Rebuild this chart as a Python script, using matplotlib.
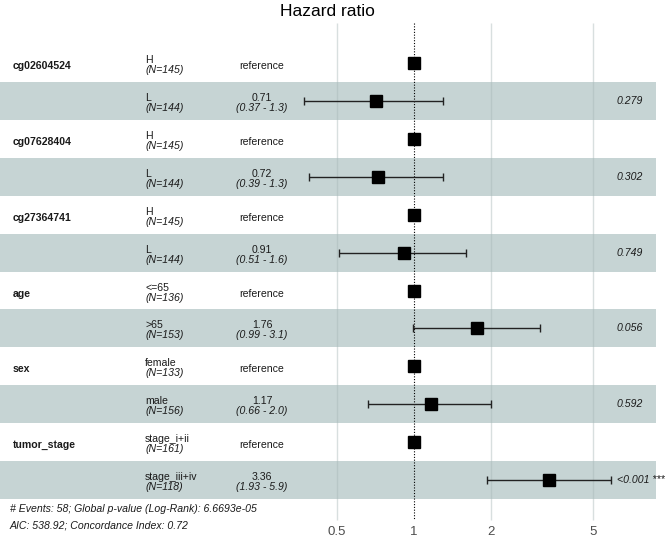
import numpy as np
import matplotlib
matplotlib.use("Agg")
import matplotlib.pyplot as plt
from matplotlib import transforms

variables = ["cg02604524", "cg07628404", "cg27364741", "age", "sex", "tumor_stage"]
levels = [("H", "L"), ("H", "L"), ("H", "L"), ("<=65", ">65"),
          ("female", "male"), ("stage_i+ii", "stage_iii+iv")]
counts = [(145, 144), (145, 144), (145, 144), (136, 153), (133, 156), (161, 118)]
hr = [0.71, 0.72, 0.91, 1.76, 1.17, 3.36]
lower = [0.37, 0.39, 0.51, 0.99, 0.66, 1.93]
upper = [1.3, 1.3, 1.6, 3.1, 2.0, 5.9]
pvals = ["0.279", "0.302", "0.749", "0.056", "0.592", "<0.001 ***"]
ticks = [0.5, 1, 2, 5]
footer = ["# Events: 58; Global p-value (Log-Rank): 6.6693e-05",
          "AIC: 538.92; Concordance Index: 0.72"]

W, H = 669, 540
ROW = 37.92          # row height in pixels
TOP = 63.0           # centre of first row in pixels
PX_PER_LN = 111.0    # pixels per unit of ln(HR)
X_ONE = 414.0        # pixel of HR = 1

plt.rcParams["font.family"] = ["Liberation Sans", "DejaVu Sans"]
fig = plt.figure(figsize=(W / 100, H / 100), dpi=100)
ax = fig.add_axes([0, 0, 1, 1])
ax.set_xscale("log")
ax.set_xlim(np.exp(-X_ONE / PX_PER_LN), np.exp((W - X_ONE) / PX_PER_LN))
ax.set_ylim((H - TOP) / ROW, -TOP / ROW)
ax.axis("off")

band = "#c6d4d4"
txt = "#1a1a1a"
fs = 7.6
px = 1.0 / ROW
tr = transforms.blended_transform_factory(ax.transAxes, ax.transData)

n_rows = 2 * len(variables)
for r in range(1, n_rows, 2):
    ax.axhspan(r - 0.5, r + 0.5, xmin=0, xmax=656 / W, color=band, lw=0, zorder=0)

y0, y1 = (23 - TOP) / ROW, (520 - TOP) / ROW
ax.vlines([t for t in ticks if t != 1], y0, y1, color="#a9b8b8", alpha=0.45, lw=1, zorder=1)
ax.vlines([1], y0, y1, color="black", lw=0.8, linestyles=(0, (1, 1.5)), zorder=2)

for i, var in enumerate(variables):
    r0, r1 = 2 * i, 2 * i + 1
    ax.text(13 / W, r0 + 3 * px, var, transform=tr, fontsize=fs, fontweight="bold",
            color=txt, va="center", ha="left")
    for r, lev, n in zip((r0, r1), levels[i], counts[i]):
        ax.text(145 / W, r - 3 * px, lev, transform=tr, fontsize=fs, color=txt,
                va="center", ha="left")
        ax.text(145 / W, r + 7 * px, f"(N={n})", transform=tr, fontsize=fs,
                style="italic", color=txt, va="center", ha="left")
    ax.text(262 / W, r0 + 3 * px, "reference", transform=tr, fontsize=fs, color=txt,
            va="center", ha="center")
    ax.plot([1], [r0], marker="s", ms=9.2, color="black", zorder=4)

    ax.text(262 / W, r1 - 3 * px, f"{hr[i]:.2f}", transform=tr, fontsize=fs, color=txt,
            va="center", ha="center")
    ax.text(262 / W, r1 + 7 * px, f"({lower[i]} - {upper[i]})", transform=tr, fontsize=fs,
            style="italic", color=txt, va="center", ha="center")
    ax.errorbar([hr[i]], [r1], xerr=[[hr[i] - lower[i]], [upper[i] - hr[i]]],
                fmt="s", ms=9.2, color="black", ecolor="#222222", elinewidth=1,
                capsize=3, capthick=1, zorder=4)
    ax.text(617 / W, r1, pvals[i], transform=tr, fontsize=fs, style="italic", color=txt,
            va="center", ha="left")

ax.text(327 / W, (11 - TOP) / ROW, "Hazard ratio", transform=tr, fontsize=12.5,
        color="black", va="center", ha="center")

for k, line in enumerate(footer):
    ax.text(10 / W, (509 + 16 * k - TOP) / ROW, line, transform=tr, fontsize=fs,
            style="italic", color=txt, va="center", ha="left")

for t in ticks:
    ax.text(t, (532 - TOP) / ROW, f"{t:g}", fontsize=9.5, color="#4d4d4d",
            va="center", ha="center")

fig.savefig("out.png", dpi=100)
